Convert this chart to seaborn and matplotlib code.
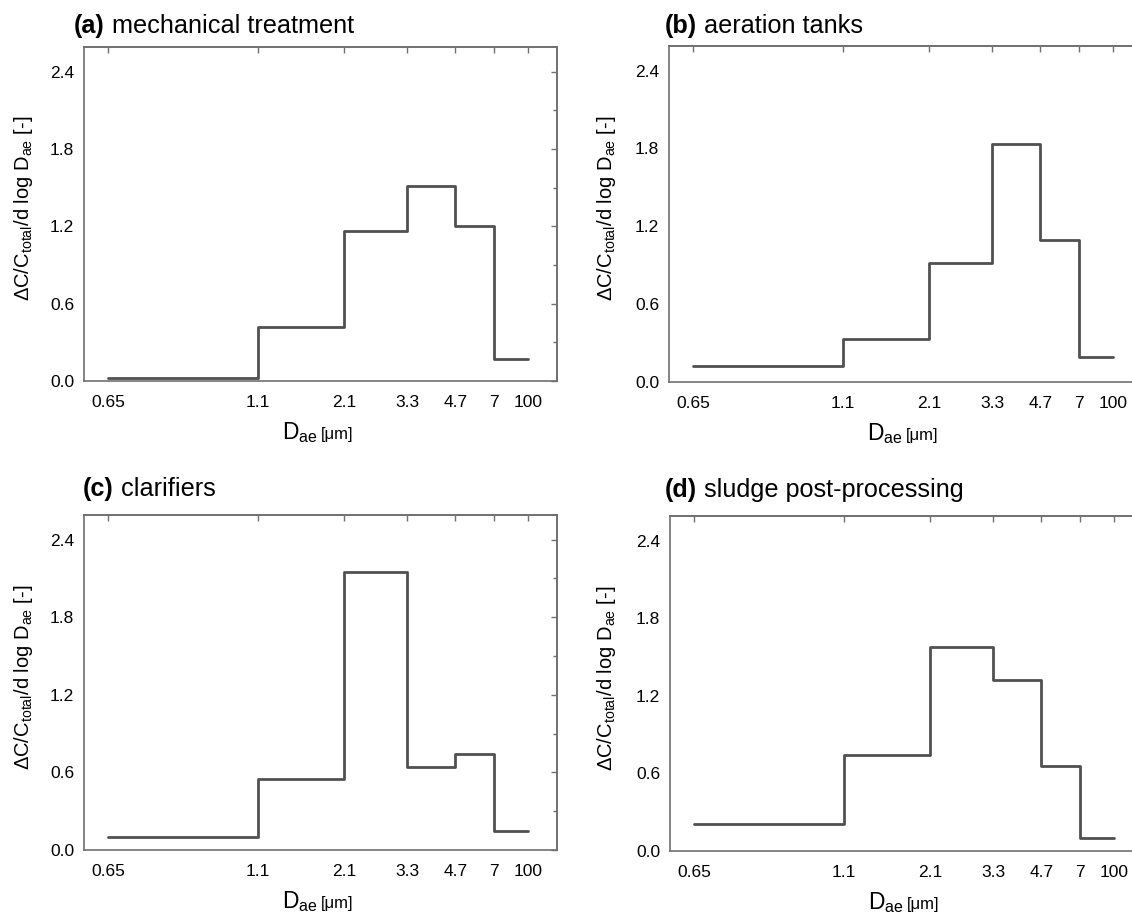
import numpy as np
import pandas as pd
import matplotlib
matplotlib.use('Agg')
import matplotlib.pyplot as plt
import seaborn as sns

# bin edges of the impactor stages (labels) and where each sits along the stretched axis
edge_labels = ['0.65', '1.1', '2.1', '3.3', '4.7', '7', '100']
edge_pos = [0.0, 0.357, 0.563, 0.712, 0.827, 0.919, 1.0]

# dC/Ctotal/dlogDae for each stage
mechanical = [0.02, 0.42, 1.165, 1.51, 1.20, 0.17]
aeration = [0.126, 0.33, 0.917, 1.836, 1.097, 0.193]
clarifiers = [0.098, 0.552, 2.15, 0.645, 0.74, 0.144]
sludge = [0.208, 0.741, 1.576, 1.324, 0.661, 0.103]

panel_tags = ['(a)', '(b)', '(c)', '(d)']
panel_names = ['mechanical treatment', 'aeration tanks', 'clarifiers', 'sludge post-processing']
panel_values = [mechanical, aeration, clarifiers, sludge]

yticks = [0.0, 0.6, 1.2, 1.8, 2.4]
yminor = [0.3, 0.9, 1.5, 2.1]

sns.set_theme(style='white')
plt.rcParams['font.family'] = ['Liberation Sans', 'DejaVu Sans']
plt.rcParams['mathtext.fontset'] = 'custom'
plt.rcParams['mathtext.rm'] = 'Liberation Sans'
plt.rcParams['mathtext.it'] = 'Liberation Sans'
plt.rcParams['mathtext.default'] = 'regular'
plt.rcParams['text.color'] = 'black'

W, H = 1132, 915
fig = plt.figure(figsize=(W / 100, H / 100), dpi=100)

# axes boxes in pixels: left, top, bottom ; title start x, title baseline y, ylabel right edge x
boxes = [
    (84, 47, 381, 74, 33, 35),
    (669, 46, 382, 665, 33, 618),
    (84, 515, 850, 83, 496, 35),
    (670, 516, 851, 665, 497, 618),
]
axw = 473
spine_col = '#707070'
line_col = '#505050'

renderer = fig.canvas.get_renderer()

for (left, top, bottom, tx, ty, ylx), tag, name, vals in zip(boxes, panel_tags, panel_names, panel_values):
    ax = fig.add_axes([left / W, 1 - bottom / H, axw / W, (bottom - top) / H])
    df = pd.DataFrame({'pos': edge_pos, 'val': vals + [vals[-1]]})
    sns.lineplot(data=df, x='pos', y='val', ax=ax, drawstyle='steps-post',
                 color=line_col, linewidth=2.0, estimator=None, sort=False)
    ax.set_xlim(-0.057, 1.069)
    ax.set_ylim(0, 2.59)
    ax.set_xticks(edge_pos)
    ax.set_xticklabels(edge_labels)
    ax.set_yticks(yticks)
    ax.set_yticks(yminor, minor=True)
    ax.set_yticklabels([f'{v:.1f}' for v in yticks])
    ax.tick_params(which='both', direction='out', length=4, width=1, color=spine_col,
                   labelsize=12.5, labelcolor='black', pad=3)
    ax.tick_params(axis='x', pad=6)
    ax.tick_params(which='minor', length=3)
    for sp in ax.spines.values():
        sp.set_color(spine_col)
        sp.set_linewidth(1.2)
    ax.set_xlabel('')
    ax.set_ylabel('\u0394C/C$_{total}$/d log D$_{ae}$ [-]', fontsize=14.5, color='black')
    ax.yaxis.set_label_coords((ylx - left) / axw, 0.516)

    # inward ticks on the top and right frame
    sec_x = ax.secondary_xaxis('top')
    sec_x.set_xticks(edge_pos)
    sec_x.set_xticklabels([])
    sec_x.tick_params(direction='in', length=4, width=1, color=spine_col)
    sec_x.spines['top'].set_color(spine_col)
    sec_y = ax.secondary_yaxis('right')
    sec_y.set_yticks(yticks)
    sec_y.set_yticks(yminor, minor=True)
    sec_y.set_yticklabels([])
    sec_y.tick_params(which='both', direction='in', length=4, width=1, color=spine_col)
    sec_y.tick_params(which='minor', length=3)
    sec_y.spines['right'].set_color(spine_col)

    # title: bold tag followed by plain name
    t1 = fig.text(tx / W, 1 - ty / H, tag, fontsize=18.2, fontweight='bold', va='baseline', ha='left')
    ext = t1.get_window_extent(renderer)
    fig.text(ext.x1 / W, 1 - ty / H, ' ' + name, fontsize=18.2, va='baseline', ha='left')

    # x label: D_ae larger, unit smaller
    xl_base = bottom + 58
    xl_x = left + 198
    d1 = fig.text(xl_x / W, 1 - xl_base / H, 'D$_{ae}$', fontsize=16.5, va='baseline', ha='left')
    ext = d1.get_window_extent(renderer)
    fig.text(ext.x1 / W + 3 / W, 1 - xl_base / H, '[\u03bcm]', fontsize=12, va='baseline', ha='left')

fig.savefig('out.png', dpi=100, facecolor='white')
